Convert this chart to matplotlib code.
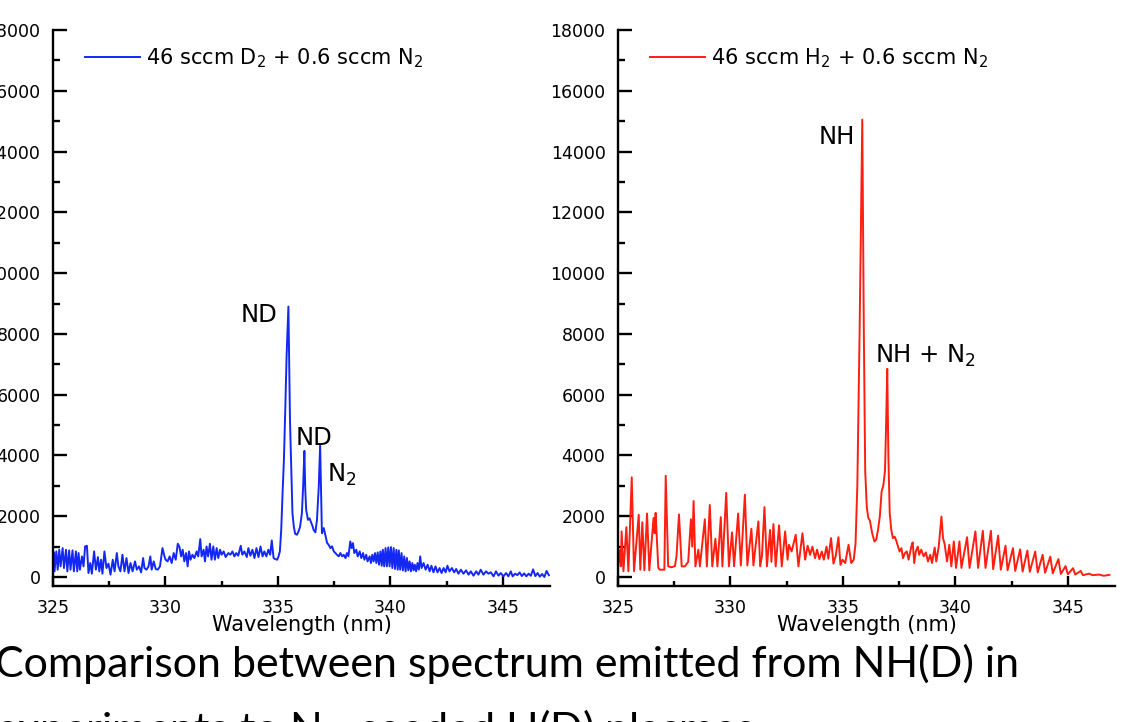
import numpy as np
import matplotlib
matplotlib.use('Agg')
import matplotlib.pyplot as plt
from matplotlib.ticker import MultipleLocator

plt.rcParams['font.family'] = 'DejaVu Sans'
plt.rcParams['mathtext.fontset'] = 'dejavusans'

# 46 sccm D2 + 0.6 sccm N2 (wavelength nm / counts)
wl_d = [325.00, 325.03, 325.07, 325.15, 325.21, 325.28, 325.34, 325.43, 325.49, 325.58,
        325.64, 325.72, 325.78, 325.87, 325.93, 326.02, 326.08, 326.14, 326.20, 326.29,
        326.36, 326.43, 326.51, 326.58, 326.66, 326.73, 326.83, 326.91, 327.00, 327.06,
        327.14, 327.20, 327.29, 327.38, 327.47, 327.56, 327.66, 327.74, 327.84, 327.91,
        328.00, 328.09, 328.18, 328.27, 328.36, 328.45, 328.54, 328.65, 328.73, 328.83,
        328.92, 329.01, 329.07, 329.16, 329.25, 329.33, 329.39, 329.48, 329.57, 329.66,
        329.76, 329.87, 329.96, 330.01, 330.10, 330.19, 330.28, 330.37, 330.46, 330.55,
        330.62, 330.70, 330.77, 330.84, 330.92, 330.99, 331.05, 331.12, 331.20, 331.29,
        331.39, 331.46, 331.55, 331.61, 331.70, 331.76, 331.83, 331.90, 331.98, 332.05,
        332.13, 332.20, 332.28, 332.35, 332.43, 332.50, 332.59, 332.68, 332.80, 332.89,
        332.98, 333.07, 333.15, 333.24, 333.35, 333.42, 333.51, 333.62, 333.69, 333.78,
        333.87, 333.96, 334.05, 334.14, 334.23, 334.32, 334.40, 334.49, 334.58, 334.66,
        334.73, 334.81, 334.88, 334.97, 335.03, 335.09, 335.15, 335.21, 335.27, 335.33,
        335.39, 335.47, 335.54, 335.60, 335.65, 335.71, 335.77, 335.85, 335.92, 335.99,
        336.07, 336.13, 336.18, 336.22, 336.26, 336.34, 336.41, 336.49, 336.55, 336.59,
        336.67, 336.74, 336.82, 336.88, 336.93, 336.96, 337.04, 337.11, 337.19, 337.26,
        337.34, 337.41, 337.49, 337.56, 337.63, 337.71, 337.78, 337.86, 337.93, 338.01,
        338.07, 338.14, 338.22, 338.28, 338.34, 338.40, 338.49, 338.55, 338.64, 338.71,
        338.79, 338.85, 338.93, 338.99, 339.08, 339.14, 339.20, 339.26, 339.32, 339.38,
        339.44, 339.50, 339.56, 339.62, 339.67, 339.73, 339.79, 339.85, 339.91, 339.97,
        340.03, 340.09, 340.15, 340.21, 340.27, 340.33, 340.38, 340.44, 340.50, 340.56,
        340.62, 340.68, 340.74, 340.80, 340.86, 340.92, 340.98, 341.04, 341.09, 341.15,
        341.21, 341.27, 341.33, 341.39, 341.48, 341.57, 341.66, 341.75, 341.83, 341.92,
        342.01, 342.10, 342.19, 342.28, 342.37, 342.46, 342.54, 342.63, 342.74, 342.84,
        342.93, 343.03, 343.14, 343.25, 343.37, 343.48, 343.58, 343.70, 343.82, 343.92,
        344.02, 344.14, 344.26, 344.36, 344.47, 344.59, 344.70, 344.81, 344.91, 345.03,
        345.15, 345.25, 345.36, 345.44, 345.55, 345.65, 345.75, 345.85, 345.95, 346.05,
        346.15, 346.25, 346.35, 346.45, 346.55, 346.65, 346.75, 346.85, 346.95, 347.05]
int_d = [320, 820, 186, 842, 241, 897, 350, 952, 295, 897,
         186, 875, 241, 875, 186, 842, 186, 788, 241, 678,
         350, 1006, 1028, 131, 460, 109, 842, 241, 656, 186,
         569, 109, 842, 295, 438, 77, 569, 186, 788, 350,
         186, 733, 186, 624, 131, 460, 186, 514, 241, 350,
         153, 624, 295, 241, 350, 678, 241, 514, 263, 241,
         350, 952, 678, 569, 514, 678, 460, 788, 569, 1094,
         1006, 678, 897, 514, 788, 350, 842, 569, 733, 624,
         842, 678, 1247, 678, 897, 514, 1006, 678, 1094, 569,
         1006, 569, 952, 624, 897, 733, 842, 656, 788, 733,
         842, 678, 788, 700, 1028, 733, 842, 656, 952, 700,
         897, 624, 952, 656, 1006, 678, 842, 678, 897, 733,
         1203, 624, 591, 569, 678, 842, 1553, 2757, 3851, 5500,
         7300, 8900, 5160, 3520, 2100, 1660, 1420, 1390, 1500, 1660,
         2100, 3080, 4150, 2870, 2210, 1880, 1930, 1770, 1660, 1550,
         1470, 1880, 2980, 4350, 2430, 1440, 1610, 1390, 1120, 1060,
         950, 1010, 840, 790, 730, 680, 790, 680, 730, 620,
         790, 680, 1170, 950, 1116, 788, 897, 678, 842, 624,
         788, 569, 733, 514, 678, 460, 733, 514, 788, 460,
         810, 405, 842, 372, 897, 350, 952, 350, 974, 350,
         985, 295, 952, 263, 897, 241, 875, 241, 788, 219,
         678, 186, 624, 219, 514, 186, 460, 219, 405, 186,
         460, 241, 678, 295, 460, 241, 405, 186, 372, 153,
         350, 153, 295, 131, 295, 153, 372, 186, 295, 153,
         263, 109, 241, 109, 219, 77, 186, 44, 186, 77,
         241, 77, 186, 109, 153, 22, 186, 44, 131, 22,
         131, 22, 186, 22, 109, 60, 150, 30, 120, 20,
         110, 40, 250, 30, 130, 10, 100, 0, 200, 60]

# 46 sccm H2 + 0.6 sccm N2
wl_h = [325.00, 325.07, 325.12, 325.16, 325.24, 325.37, 325.46, 325.61, 325.71, 325.92,
        325.99, 326.08, 326.17, 326.29, 326.39, 326.58, 326.63, 326.67, 326.79, 326.86,
        327.06, 327.12, 327.23, 327.38, 327.53, 327.60, 327.71, 327.83, 327.97, 328.12,
        328.24, 328.30, 328.36, 328.44, 328.57, 328.64, 328.86, 328.95, 329.08, 329.19,
        329.33, 329.42, 329.57, 329.64, 329.81, 329.93, 330.07, 330.16, 330.34, 330.46,
        330.64, 330.75, 330.93, 331.02, 331.24, 331.32, 331.40, 331.51, 331.62, 331.76,
        331.82, 331.91, 332.01, 332.16, 332.28, 332.43, 332.54, 332.60, 332.72, 332.90,
        333.02, 333.20, 333.32, 333.43, 333.54, 333.64, 333.76, 333.85, 333.95, 334.06,
        334.15, 334.27, 334.35, 334.47, 334.58, 334.68, 334.80, 334.89, 334.98, 335.10,
        335.25, 335.37, 335.48, 335.56, 335.64, 335.74, 335.86, 335.93, 335.99, 336.06,
        336.13, 336.20, 336.30, 336.40, 336.48, 336.56, 336.64, 336.72, 336.80, 336.87,
        336.92, 336.97, 337.02, 337.08, 337.15, 337.22, 337.30, 337.37, 337.45, 337.52,
        337.60, 337.67, 337.75, 337.84, 337.92, 338.04, 338.10, 338.17, 338.24, 338.33,
        338.39, 338.48, 338.59, 338.69, 338.78, 338.88, 338.96, 339.08, 339.15, 339.26,
        339.38, 339.45, 339.52, 339.63, 339.73, 339.82, 339.93, 340.03, 340.18, 340.27,
        340.52, 340.63, 340.89, 341.01, 341.22, 341.34, 341.58, 341.68, 341.90, 342.02,
        342.23, 342.32, 342.56, 342.66, 342.88, 342.99, 343.20, 343.31, 343.55, 343.66,
        343.88, 343.99, 344.22, 344.33, 344.58, 344.69, 344.90, 345.00, 345.23, 345.33,
        345.57, 345.67, 345.95, 346.10, 346.40, 346.60, 346.85]
int_h = [420, 880, 350, 1500, 190, 1640, 190, 3280, 190, 2050,
         240, 1800, 220, 2090, 220, 1940, 1440, 2110, 300, 240,
         240, 3330, 350, 320, 360, 680, 2060, 350, 350, 500,
         1900, 1000, 2500, 350, 900, 350, 1900, 350, 2370, 350,
         1260, 350, 1970, 350, 2770, 350, 1470, 350, 2090, 380,
         2710, 380, 1590, 380, 1830, 350, 700, 2300, 350, 1550,
         500, 1740, 350, 1700, 350, 1500, 570, 1060, 840, 1390,
         350, 1440, 570, 1030, 730, 1000, 620, 900, 590, 840,
         570, 1000, 600, 1280, 440, 700, 1310, 400, 570, 460,
         1060, 460, 570, 1100, 3000, 8000, 15050, 8000, 3500, 2300,
         1940, 1850, 1440, 1170, 1230, 1550, 1990, 2810, 3030, 3500,
         5000, 6850, 4000, 2100, 1550, 1280, 1330, 1200, 1000, 840,
         950, 620, 780, 840, 570, 1000, 1140, 460, 840, 1000,
         730, 900, 680, 810, 510, 730, 460, 970, 510, 1000,
         1990, 1280, 1090, 510, 1060, 350, 1170, 300, 1170, 300,
         1310, 300, 1500, 300, 1520, 300, 1520, 260, 1360, 240,
         1030, 220, 950, 200, 910, 180, 870, 170, 840, 150,
         730, 140, 670, 120, 590, 100, 360, 90, 290, 80,
         200, 60, 110, 60, 80, 40, 70]

labels_d = ['ND', 'ND', 'N$_2$']
labels_h = ['NH', 'NH + N$_2$']


def style_axis(ax):
    ax.set_xlim(325, 347.1)
    ax.set_ylim(-300, 18000)
    ax.spines['top'].set_visible(False)
    ax.spines['right'].set_visible(False)
    ax.spines['left'].set_linewidth(1.7)
    ax.spines['bottom'].set_linewidth(1.7)
    ax.xaxis.set_major_locator(MultipleLocator(5))
    ax.xaxis.set_minor_locator(MultipleLocator(2.5))
    ax.yaxis.set_major_locator(MultipleLocator(2000))
    ax.yaxis.set_minor_locator(MultipleLocator(1000))
    ax.tick_params(axis='y', which='major', direction='in', length=10, width=1.7, labelsize=12.5, pad=9)
    ax.tick_params(axis='y', which='minor', direction='in', length=5, width=1.7)
    ax.tick_params(axis='x', which='major', direction='in', length=7.5, width=1.7, labelsize=12.5, pad=9)
    ax.tick_params(axis='x', which='minor', direction='in', length=3.5, width=1.7)
    ax.set_xlabel('Wavelength (nm)', fontsize=15, labelpad=-1)


fig = plt.figure(figsize=(11.46, 7.22), dpi=100)
ax1 = fig.add_axes([0.0462, 0.1882, 0.4337, 0.7702])
ax2 = fig.add_axes([0.5393, 0.1882, 0.4337, 0.7702])

ax1.plot(wl_d, int_d, color='#1428f5', lw=1.4, label='46 sccm D$_2$ + 0.6 sccm N$_2$')
ax2.plot(wl_h, int_h, color='#ff1e0f', lw=1.4, label='46 sccm H$_2$ + 0.6 sccm N$_2$')

for ax in (ax1, ax2):
    style_axis(ax)
    ax.legend(loc='upper left', bbox_to_anchor=(0.03, 1.0), frameon=False, fontsize=15,
              handlelength=2.65, handletextpad=0.3, borderaxespad=0.4)

ax1.text(335.0, 8620, labels_d[0], ha='right', va='center', fontsize=17.5)
ax1.text(336.62, 4570, labels_d[1], ha='center', va='center', fontsize=17.5)
ax1.text(337.18, 3350, labels_d[2], ha='left', va='center', fontsize=17.5)
ax2.text(335.55, 14480, labels_h[0], ha='right', va='center', fontsize=17.5)
ax2.text(336.42, 7270, labels_h[1], ha='left', va='center', fontsize=17.5)

# slide caption, second line runs off the bottom edge as in the screenshot
fig.text(-0.004, 0.062, 'Comparison between spectrum emitted from NH(D) in',
         fontsize=31, family='Lato', ha='left', va='baseline')
fig.text(-0.004, -0.029, 'experiments to N$_2$-seeded H(D) plasmas',
         fontsize=31, family='Lato', ha='left', va='baseline')

fig.savefig('out.png', dpi=100)
